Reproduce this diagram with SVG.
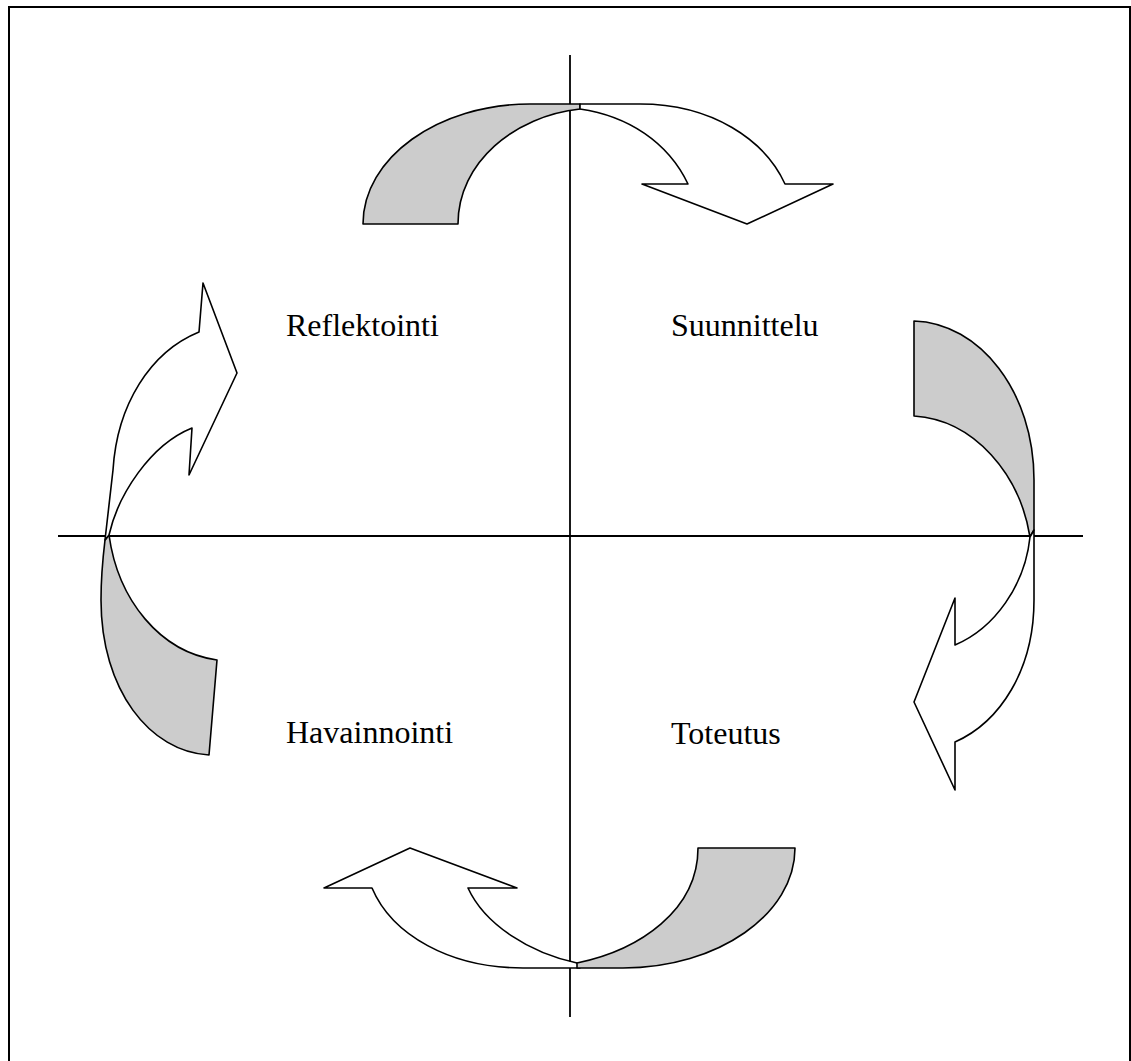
<svg xmlns="http://www.w3.org/2000/svg" width="1131" height="1061" viewBox="0 0 1131 1061">
<style>
.ax{stroke:#000;stroke-width:1.8;fill:none}
.g{fill:#cccccc;stroke:#000;stroke-width:1.6;stroke-linejoin:round}
.w{fill:#fff;stroke:#000;stroke-width:1.6;stroke-linejoin:round}
.t{font-family:"Liberation Serif","Times New Roman",serif;font-size:32px;fill:#000}
</style>
<rect width="1131" height="1061" fill="#fff"/>
<path d="M9,1061 L9,7 L1130,7 L1130,1061" fill="none" stroke="#000" stroke-width="2"/>
<g id="axes">
<line class="ax" x1="570" y1="55" x2="570" y2="1017"/>
<line class="ax" x1="58" y1="536" x2="1083" y2="536"/>
</g>
<g id="arrow-top">
<path class="g" d="M363,224 C363,158 438,104 530,104 L580,104 L580,109 C515,116 458,162 458,224 Z"/>
<path class="w" d="M580,104 L640,104 C712,104 765,140 785,184 L833,184 L747,224 L642,184 L688,184 C668,142 628,116 580,109 Z"/>
</g>
<g id="arrow-right">
<path class="g" d="M914,321 L914,416 C975,420 1020,475 1030,537 L1034,530 L1034,480 C1034,392 980,323 914,321 Z"/>
<path class="w" d="M1030,537 C1025,585 995,628 955,645 L955,598 L914,702 L955,790 L955,742 C1000,722 1034,670 1034,600 L1034,530 Z"/>
</g>
<g id="arrow-bottom">
<path class="w" d="M577,963 C530,953 485,925 468,888 L517,888 L410,848 L324,888 L372,888 C392,935 450,968 523,968 L580,968 Z"/>
<path class="g" d="M698,848 L795,848 C795,914 718,968 623,968 L577,968 L577,963 C640,950 698,910 698,848 Z"/>
</g>
<g id="arrow-left">
<path class="g" d="M109,535 C118,600 160,652 217,660 L209,755 C150,752 101,690 101,600 C101,585 102,565 105,540 Z"/>
<path class="w" d="M109,535 C118,495 150,445 192,428 L189,475 L237,373 L203,283 L199,332 C150,352 117,405 113,470 L105,540 Z"/>
</g>
<g id="label-reflektointi"><text class="t" x="286" y="336">Reflektointi</text></g>
<g id="label-suunnittelu"><text class="t" x="671" y="336">Suunnittelu</text></g>
<g id="label-havainnointi"><text class="t" x="286" y="743">Havainnointi</text></g>
<g id="label-toteutus"><text class="t" x="671" y="744">Toteutus</text></g>
</svg>
